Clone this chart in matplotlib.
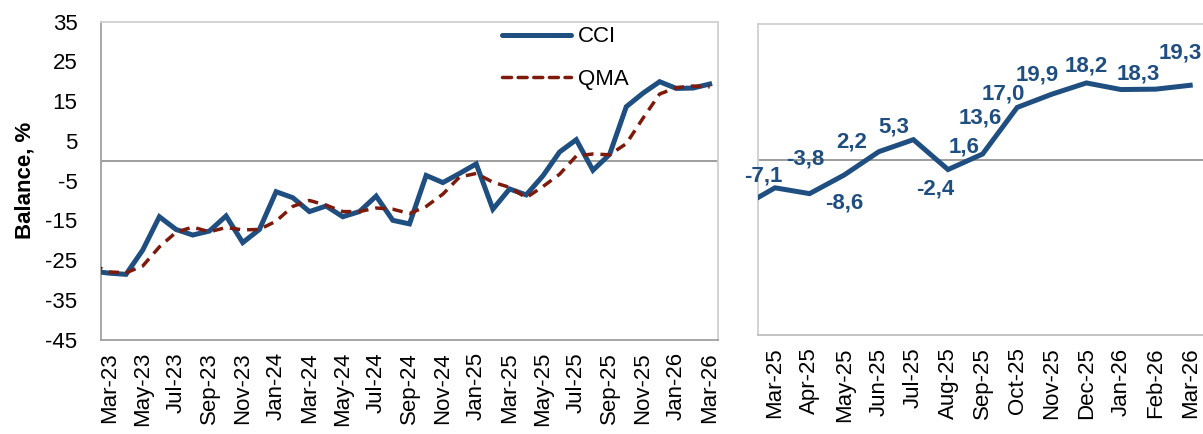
import matplotlib
matplotlib.use('Agg')
import matplotlib.pyplot as plt
from matplotlib.lines import Line2D
import numpy as np

# ---------------- data ----------------
months = ['Feb-23', 'Mar-23', 'Apr-23', 'May-23', 'Jun-23', 'Jul-23', 'Aug-23', 'Sep-23',
          'Oct-23', 'Nov-23', 'Dec-23', 'Jan-24', 'Feb-24', 'Mar-24', 'Apr-24', 'May-24',
          'Jun-24', 'Jul-24', 'Aug-24', 'Sep-24', 'Oct-24', 'Nov-24', 'Dec-24', 'Jan-25',
          'Feb-25', 'Mar-25', 'Apr-25', 'May-25', 'Jun-25', 'Jul-25', 'Aug-25', 'Sep-25',
          'Oct-25', 'Nov-25', 'Dec-25', 'Jan-26', 'Feb-26', 'Mar-26']
cci = [-27.8, -28.3, -28.6, -22.5, -14.1, -17.3, -18.7, -17.7,
       -13.9, -20.6, -17.3, -7.8, -9.3, -12.8, -11.4, -14.1,
       -12.8, -8.9, -15.0, -15.9, -3.7, -5.5, -3.2, -0.8,
       -12.2, -7.1, -8.6, -3.8, 2.2, 5.3, -2.4, 1.6,
       13.6, 17.0, 19.9, 18.2, 18.3, 19.3]
qma = [-26.2, -28.0, -28.2, -26.5, -21.7, -18.0, -16.7, -17.9,
       -16.8, -17.4, -17.3, -15.2, -11.5, -10.0, -11.2, -12.8,
       -12.8, -11.9, -12.2, -13.3, -11.5, -8.4, -4.1, -3.2,
       -5.4, -6.7, -9.3, -6.5, -3.4, 1.2, 1.7, 1.5,
       4.3, 10.7, 16.8, 18.4, 18.8, 18.6]
yticks = [35, 25, 15, 5, -5, -15, -25, -35, -45]

# label offsets (pixels) for right-panel data labels, Mar-25 .. Mar-26
label_offsets = [(-12, 12), (35, -9), (-39, 16), (-27, 10), (-20, 13), (-13, -19),
                 (-19, 7), (-37, -11), (-48, 0), (-49, 8), (-35, 24), (-17, 15), (-10, 32)]

# ---------------- style ----------------
plt.rcParams['font.family'] = ['Liberation Sans', 'DejaVu Sans']
FS = 16
BLUE = '#1F4E80'
RED = '#7E1A0B'
AXIS_GRAY = '#A0A0A0'
BORDER_GRAY = '#D0D0D0'

W, H = 1203, 434
fig = plt.figure(figsize=(W / 100, H / 100), dpi=100)

x = np.arange(len(months)) - 1  # Mar-23 -> 0

# ---------------- left panel ----------------
axL = fig.add_axes([101 / W, 1 - 339.5 / H, 617 / W, 317.8 / H])
axL.axhline(0, color='#8C8C8C', lw=1.2, zorder=1)
axL.plot(x, cci, color=BLUE, lw=3.6, solid_joinstyle='miter', zorder=3, label='CCI')
axL.plot(x, qma, color=RED, lw=2.5, dashes=(3.0, 2.0), zorder=4, label='QMA')
axL.set_xlim(-0.5, 36.5)
axL.set_ylim(-45, 35)
axL.set_yticks(yticks)
axL.set_yticklabels([str(v) for v in yticks], fontsize=FS)
tk = list(range(0, 37, 2))
axL.set_xticks(tk)
axL.set_xticklabels([months[i + 1] for i in tk], rotation=90, fontsize=FS)
axL.tick_params(axis='y', length=0, pad=17)
axL.tick_params(axis='x', length=0, pad=9)
axL.set_ylabel('Balance, %', fontsize=FS, fontweight='bold', labelpad=7)
for s in ['left', 'bottom']:
    axL.spines[s].set_color(AXIS_GRAY)
    axL.spines[s].set_linewidth(1.3)
for s in ['top', 'right']:
    axL.spines[s].set_color(BORDER_GRAY)
    axL.spines[s].set_linewidth(1.3)

handles = [Line2D([], [], color=BLUE, lw=3.6, solid_capstyle='round'),
           Line2D([], [], color=RED, lw=2.5, dashes=(2.6, 1.9), dash_capstyle='round')]
axL.legend(handles, ['CCI', 'QMA'], loc='upper left', bbox_to_anchor=(0.650, 0.985),
           frameon=False, fontsize=FS, handlelength=3.1, handletextpad=0.3,
           labelspacing=0.95, borderpad=0, borderaxespad=0)

# ---------------- right panel ----------------
axR = fig.add_axes([757.7 / W, 1 - 335 / H, 449.8 / W, 310.7 / H])
axR.axhline(0, color='#8C8C8C', lw=1.2, zorder=1)
start = months.index('Feb-25')
xr = x[start:]
yr = cci[start:]
axR.plot(xr, yr, color=BLUE, lw=3.6, solid_joinstyle='miter', zorder=3)
axR.set_xlim(23.5, 36.5)
axR.set_ylim(-45, 35)
axR.set_yticks([])
rt = list(range(24, 37))
axR.set_xticks(rt)
axR.set_xticklabels([months[i + 1] for i in rt], rotation=90, fontsize=FS)
axR.tick_params(axis='x', length=0, pad=9)
for s in axR.spines.values():
    s.set_color(BORDER_GRAY)
    s.set_linewidth(1.3)
axR.spines['bottom'].set_color('#BFBFBF')

for (xi, vi), off in zip(zip(xr[1:], yr[1:]), label_offsets):
    axR.annotate(f'{vi:.1f}'.replace('.', ','), xy=(xi, vi), xytext=off,
                 textcoords='offset pixels', ha='center', va='center',
                 fontsize=FS, fontweight='bold', color=BLUE, zorder=5,
                 annotation_clip=False)

fig.savefig('out.png', dpi=100)
